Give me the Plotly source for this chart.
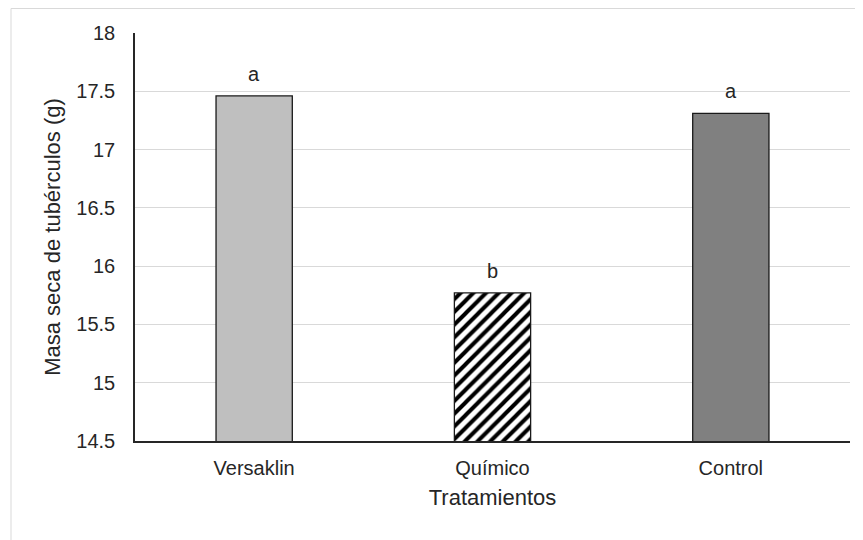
import plotly.graph_objects as go

categories = ["Versaklin", "Químico", "Control"]
values = [17.46, 15.77, 17.31]
letters = ["a", "b", "a"]
colors = ["#bfbfbf", "#ffffff", "#808080"]
patterns = ["", "/", ""]
y_ticks = [14.5, 15, 15.5, 16, 16.5, 17, 17.5, 18]
y_tick_labels = ["14.5", "15", "15.5", "16", "16.5", "17", "17.5", "18"]

W, H = 863, 540
ml, mr, mt, mb = 127, 21, 25, 107
FONT = "Liberation Sans, Arial"

fig = go.Figure()
for cat, val, col, pat in zip(categories, values, colors, patterns):
    marker = dict(color=col, line=dict(color="#1a1a1a", width=1.3))
    if pat:
        marker["pattern"] = dict(shape=pat, fgcolor="#000000", bgcolor="#ffffff",
                                 fgopacity=1, size=9, solidity=0.45,
                                 fillmode="replace")
    fig.add_trace(go.Bar(
        x=[cat], y=[val], marker=marker, showlegend=False, width=0.32,
    ))

for cat, val, let in zip(categories, values, letters):
    fig.add_annotation(x=cat, y=val, text=let, showarrow=False,
                       yanchor="bottom", yshift=9,
                       font=dict(size=20, color="#262626", family=FONT))

pw = W - ml - mr
ph = H - mt - mb
fig.add_shape(type="rect", xref="paper", yref="paper",
              x0=(3 - ml) / pw, x1=(W + 20 - ml) / pw,
              y0=-(H + 20 - mt - ph) / ph, y1=1 + (mt - 0.5) / ph,
              line=dict(color="#d9d9d9", width=1), fillcolor="rgba(0,0,0,0)",
              layer="below")

fig.update_layout(
    width=W, height=H,
    margin=dict(l=ml, r=mr, t=mt, b=mb),
    paper_bgcolor="white", plot_bgcolor="white",
    barmode="overlay",
    font=dict(family=FONT, size=20, color="#262626"),
    xaxis=dict(
        title=dict(text="Tratamientos", font=dict(size=22), standoff=12),
        showline=True, linecolor="#262626", linewidth=1.5,
        ticks="", showgrid=False, tickfont=dict(size=20), ticklabelstandoff=8,
    ),
    yaxis=dict(
        title=dict(text="Masa seca de tubérculos (g)", font=dict(size=22), standoff=10),
        range=[14.5, 18], tickvals=y_ticks, ticktext=y_tick_labels,
        showline=True, linecolor="#262626", linewidth=1.5,
        showgrid=True, gridcolor="#d9d9d9", gridwidth=1,
        ticks="", zeroline=False, tickfont=dict(size=20), ticklabelstandoff=14,
    ),
)

fig.write_html("out.html")
